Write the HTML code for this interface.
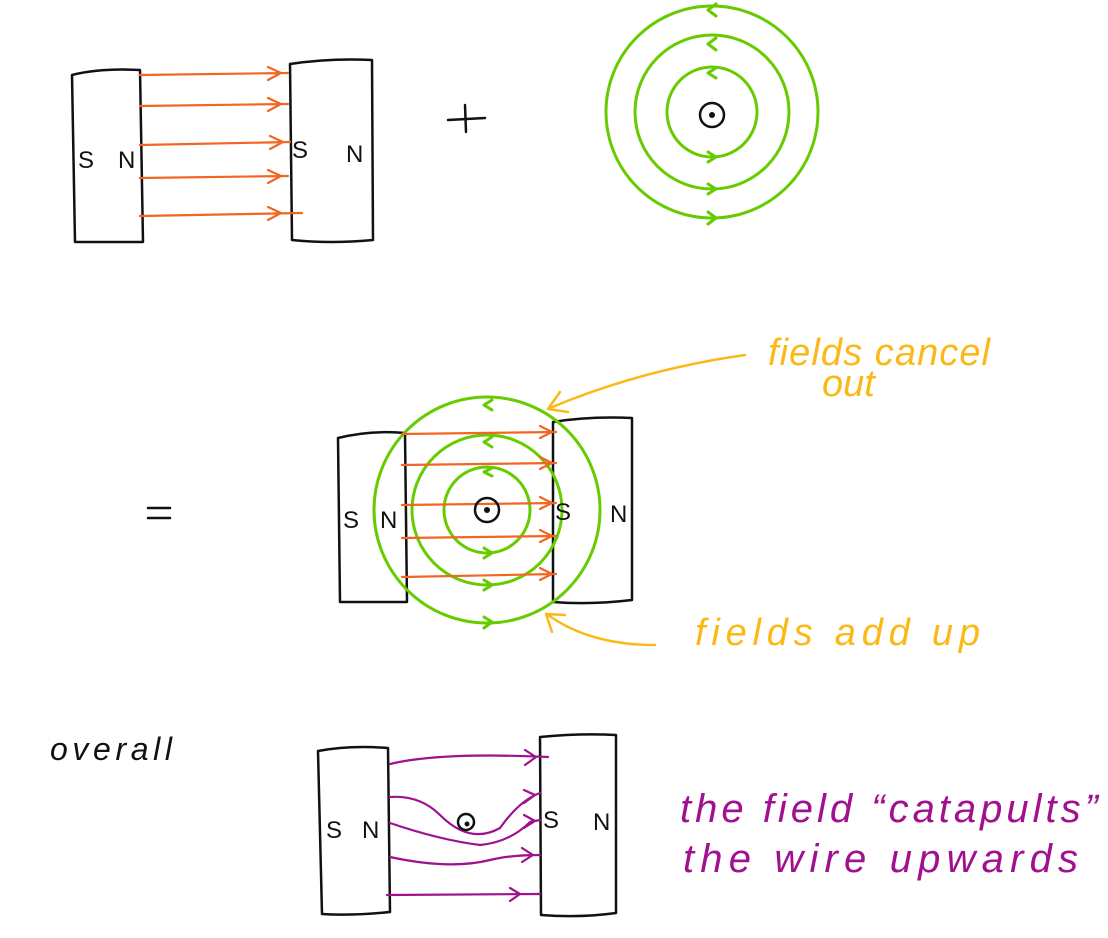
<!DOCTYPE html>
<html><head><meta charset="utf-8"><style>
html,body{margin:0;padding:0;background:#fff;}
svg{display:block}
text{font-family:"Liberation Sans",sans-serif;}
</style></head><body>
<svg width="1108" height="938" viewBox="0 0 1108 938" xmlns="http://www.w3.org/2000/svg">
<g fill="none" stroke-linecap="round" stroke-linejoin="round">
<g stroke="#111" stroke-width="2.5">
<path d="M72 75 Q100 68 140 70 L143 242 L75 242 Z"/>
<path d="M290 64 Q330 58 372 60 L373 240 Q330 244 292 240 Z"/>
</g>
<g stroke="#f26522" stroke-width="2.2">
<path d="M140 75 L288 73 M268 67 L281 73 L268 80"/>
<path d="M140 106 L288 104 M268 98 L281 104 L268 111"/>
<path d="M140 145 L290 142 M270 136 L283 142 L270 149"/>
<path d="M140 178 L288 176 M268 170 L281 176 L268 183"/>
<path d="M140 216 L302 213 M268 207 L281 213 L268 220"/>
</g>
<g stroke="#66cc00" stroke-width="3">
<circle cx="712" cy="112" r="106"/>
<circle cx="712" cy="112" r="77"/>
<circle cx="712" cy="112" r="45"/>
<path d="M716 4 L708 10 L716 16 M716 38 L708 44 L716 50 M716 68 L708 73 L716 78"/>
<path d="M708 152 L716 157 L708 162 M708 184 L716 189 L708 194 M708 212 L716 218 L708 224"/>
</g>
<circle cx="712" cy="115" r="12" stroke="#111" stroke-width="2.5"/>
<circle cx="712" cy="115" r="3" fill="#111"/>
<path d="M448 120 L485 118 M465 105 L466 132" stroke="#111" stroke-width="2.5"/>

<path d="M148 508 L170 508 M148 518 L170 518" stroke="#111" stroke-width="2.5"/>
<g stroke="#111" stroke-width="2.5">
<path d="M338 438 Q370 430 405 433 L407 602 L340 602 Z"/>
<path d="M553 422 Q590 416 632 418 L632 600 Q590 605 553 602 Z"/>
</g>
<g stroke="#66cc00" stroke-width="3">
<circle cx="487" cy="510" r="113"/>
<circle cx="487" cy="510" r="75"/>
<circle cx="487" cy="510" r="43"/>
<path d="M492 400 L484 405 L492 410 M492 437 L484 442 L492 447 M492 468 L484 472 L492 476"/>
<path d="M484 548 L492 553 L484 558 M484 580 L492 585 L484 590 M484 617 L492 622 L484 628"/>
</g>
<g stroke="#f26522" stroke-width="2.2">
<path d="M402 434 L556 432 M540 426 L552 432 L540 438"/>
<path d="M402 465 L556 463 M540 457 L552 463 L540 469"/>
<path d="M402 505 L556 503 M540 497 L552 503 L540 509"/>
<path d="M402 538 L556 536 M540 530 L552 536 L540 542"/>
<path d="M402 577 L556 574 M540 568 L552 574 L540 580"/>
</g>
<circle cx="487" cy="510" r="12" stroke="#111" stroke-width="2.5"/>
<circle cx="487" cy="510" r="3" fill="#111"/>
<g stroke="#fbb917" stroke-width="2.5">
<path d="M745 355 Q640 370 550 408 M560 392 L548 409 L568 412"/>
<path d="M655 645 Q590 645 548 615 M565 615 L546 614 L552 632"/>
</g>

<g stroke="#111" stroke-width="2.5">
<path d="M318 751 Q350 745 388 748 L390 912 Q350 916 322 914 Z"/>
<path d="M540 737 Q580 733 616 735 L616 913 Q580 918 541 915 Z"/>
</g>
<g stroke="#a0108f" stroke-width="2.2">
<path d="M390 764 Q440 752 548 757 M525 750 L536 757 L525 765"/>
<path d="M390 797 Q420 795 440 815 Q470 845 500 828 Q520 800 540 793 M524 790 L535 795 L524 803"/>
<path d="M390 823 Q440 840 480 845 Q510 842 530 822 L540 820 M524 815 L535 821 L524 828"/>
<path d="M390 857 Q450 870 490 860 Q510 855 540 855 M522 848 L533 855 L522 862"/>
<path d="M387 895 L540 894 M510 888 L520 894 L510 901"/>
</g>
<circle cx="466" cy="822" r="8" stroke="#111" stroke-width="2.5"/>
<circle cx="467" cy="824" r="2.5" fill="#111"/>
</g>
<g fill="#111" font-size="24">
<text x="78" y="168">S</text><text x="118" y="168">N</text>
<text x="292" y="158">S</text><text x="346" y="162">N</text>
<text x="343" y="528">S</text><text x="380" y="528">N</text>
<text x="555" y="520">S</text><text x="610" y="522">N</text>
<text x="326" y="838">S</text><text x="362" y="838">N</text>
<text x="543" y="828">S</text><text x="593" y="830">N</text>
<text x="50" y="760" font-size="32" font-style="italic" textLength="122">overall</text>
</g>
<g fill="#fbb917" font-size="38" font-style="italic">
<text x="768" y="365" textLength="222">fields cancel</text>
<text x="822" y="396">out</text>
<text x="695" y="645" textLength="285">fields  add up</text>
</g>
<g fill="#a0108f" font-size="40" font-style="italic">
<text x="680" y="822" textLength="418">the field “catapults”</text>
<text x="683" y="872" textLength="395">the wire  upwards</text>
</g>
</svg>
</body></html>
